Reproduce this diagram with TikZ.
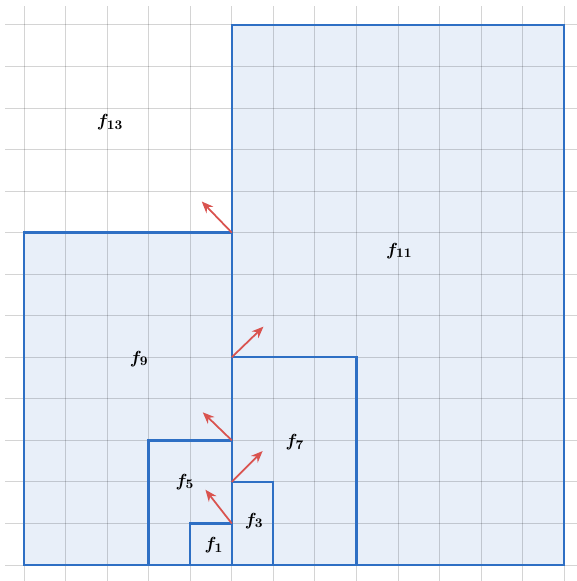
\documentclass[tikz,border=0pt]{standalone}
\usepackage{amsmath,bm}
\usetikzlibrary{arrows.meta}
\definecolor{cellfill}{HTML}{E8EFF9}
\definecolor{cellborder}{HTML}{2E6FC4}
\definecolor{arrred}{HTML}{D9534F}
\tikzset{
  cell/.style={fill=cellfill, draw=none},
  cellline/.style={draw=cellborder, line width=1.6pt},
  gridline/.style={draw=black, line width=0.6pt, opacity=0.17},
  normal/.style={draw=arrred, line width=1.2pt, -{Stealth[length=8pt,width=6.5pt]}},
  lab/.style={font=\fontsize{12.5}{14}\selectfont, inner sep=0pt}
}
\begin{document}
\begin{tikzpicture}[x=1cm,y=1cm]
\useasboundingbox (-0.578,-0.385) rectangle (13.285,13.598);
% fills
\fill[cell] (5,0) rectangle (13,13);
\fill[cell] (0,0) rectangle (5,8);
% grid
\foreach \i in {0,...,13} {
  \draw[gridline] (\i,-0.5) -- (\i,13.45);
  \draw[gridline] (-0.45,\i) -- (13.5,\i);
}
% outlines
\draw[cellline] (5,0) rectangle (13,13);
\draw[cellline] (0,0) rectangle (5,8);
\draw[cellline] (5,0) rectangle (8,5);
\draw[cellline] (3,0) rectangle (5,3);
\draw[cellline] (5,0) rectangle (6,2);
\draw[cellline] (4,0) rectangle (5,1);
% normal arrows
\coordinate (p1) at (5,8);
\coordinate (p2) at (5,5);
\coordinate (p3) at (5,3);
\coordinate (p4) at (5,2);
\coordinate (p5) at (5,1);
\draw[normal] (p1) -- ++(134:1.04) coordinate (q1);
\draw[normal] (p2) -- ++(44:1.06) coordinate (q2);
\draw[normal] (p3) -- ++(136:0.97) coordinate (q3);
\draw[normal] (p4) -- ++(45:1.05) coordinate (q4);
\draw[normal] (p5) -- ++(128:1.03) coordinate (q5);
% labels
\node[lab] (f13) at (2.07,10.66) {$\boldsymbol{f_{13}}$};
\node[lab] (f11) at (9.03,7.56) {$\boldsymbol{f_{11}}$};
\node[lab] (f9) at (2.77,4.96) {$\boldsymbol{f_{9}}$};
\node[lab] (f7) at (6.52,2.96) {$\boldsymbol{f_{7}}$};
\node[lab] (f5) at (3.87,2.0) {$\boldsymbol{f_{5}}$};
\node[lab] (f3) at (5.54,1.06) {$\boldsymbol{f_{3}}$};
\node[lab] (f1) at (4.57,0.48) {$\boldsymbol{f_{1}}$};
\end{tikzpicture}
\end{document}
